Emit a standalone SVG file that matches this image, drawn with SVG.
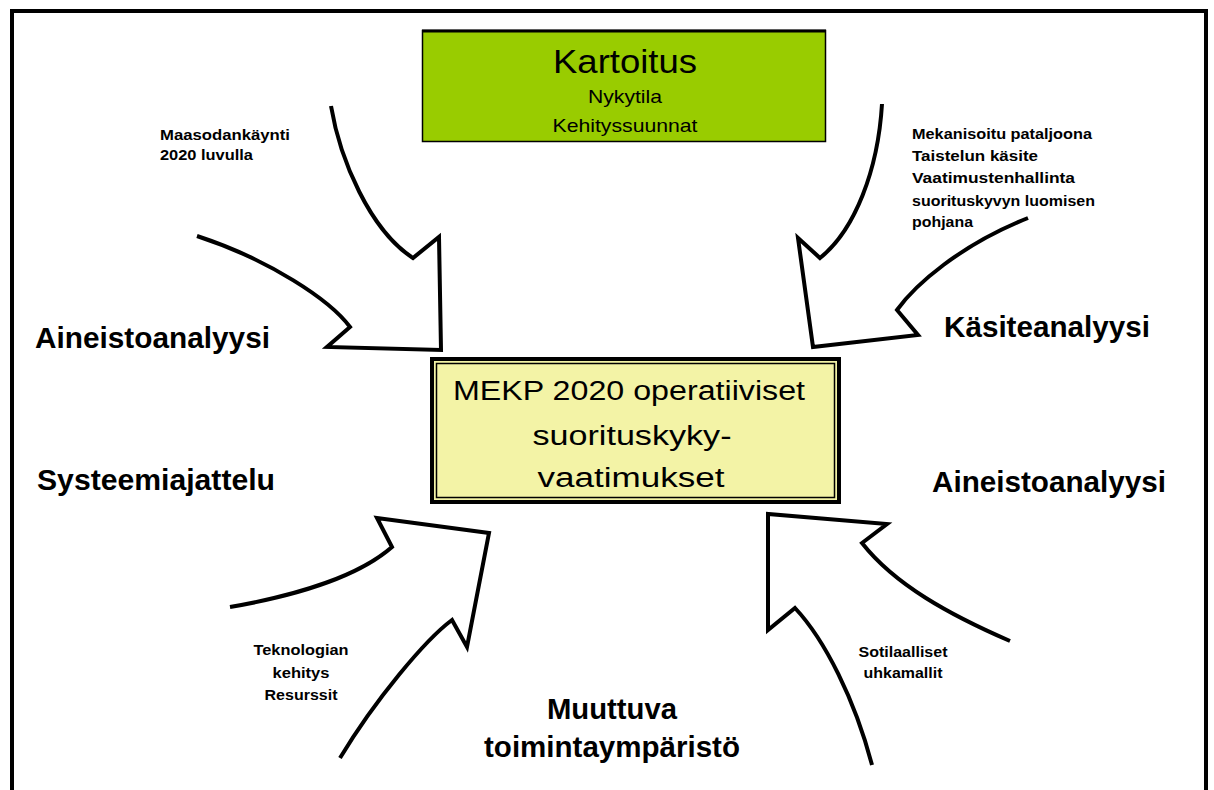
<svg xmlns="http://www.w3.org/2000/svg" width="1214" height="790" viewBox="0 0 1214 790">
<style>
.arrow{fill:none;stroke:#000;stroke-width:4;stroke-linejoin:miter}
.small{font-family:"Liberation Sans",Arial,sans-serif;font-size:15px;font-weight:bold;fill:#000}
.big{font-family:"Liberation Sans",Arial,sans-serif;font-size:29px;font-weight:bold;fill:#000}
.reg{font-family:"Liberation Sans",Arial,sans-serif;fill:#000}
</style>
<rect width="1214" height="790" fill="#fff"/>
<path d="M12,790 V11 H1206 V790" fill="none" stroke="#000" stroke-width="4"/>
<g id="kartoitus">
<rect x="422.5" y="30.5" width="403" height="111" fill="#99CC00" stroke="#000" stroke-width="1.5"/>
<line x1="422" y1="31" x2="826" y2="31" stroke="#000" stroke-width="3"/>
<text class="reg" x="625" y="73" font-size="34" text-anchor="middle" textLength="144" lengthAdjust="spacingAndGlyphs">Kartoitus</text>
<text class="reg" x="625" y="103" font-size="19" text-anchor="middle" textLength="74" lengthAdjust="spacingAndGlyphs">Nykytila</text>
<text class="reg" x="625" y="132" font-size="19" text-anchor="middle" textLength="145" lengthAdjust="spacingAndGlyphs">Kehityssuunnat</text>
</g>
<g id="mekp">
<rect x="432" y="359" width="407" height="143" fill="#F3F3A6" stroke="#000" stroke-width="4"/>
<rect x="436.5" y="363.5" width="398" height="134" fill="none" stroke="#000" stroke-width="1.5"/>
<text class="reg" x="629" y="400" font-size="27" text-anchor="middle" textLength="352" lengthAdjust="spacingAndGlyphs">MEKP 2020 operatiiviset</text>
<text class="reg" x="632" y="445" font-size="27" text-anchor="middle" textLength="199" lengthAdjust="spacingAndGlyphs">suorituskyky-</text>
<text class="reg" x="631" y="487" font-size="27" text-anchor="middle" textLength="187" lengthAdjust="spacingAndGlyphs">vaatimukset</text>
</g>
<g id="connectors">
<path class="arrow" d="M331,106 C340,160 370,230 413,258 L439,237 L441,350 L327,347 L350,327 C330,300 270,260 197,236"/>
<path class="arrow" d="M882,104 C878,170 855,230 820,258 L798,238 L813,347 L918,335 L897,310 C915,285 960,245 1028,218"/>
<path class="arrow" d="M230,607 C300,595 360,575 392,547 L377,518 L489,533 L467,647 L452,620 C425,640 375,700 340,758"/>
<path class="arrow" d="M1010,641 C950,615 895,585 862,543 L887,524 L768,514 L768,630 L795,608 C825,640 855,700 872,765"/>
</g>
<g id="label-maasodankaynti">
<text class="small" x="160" y="140" textLength="130" lengthAdjust="spacingAndGlyphs">Maasodankäynti</text>
<text class="small" x="160" y="160" textLength="93" lengthAdjust="spacingAndGlyphs">2020 luvulla</text>
</g>
<g id="label-mekanisoitu">
<text class="small" x="912" y="139" textLength="180" lengthAdjust="spacingAndGlyphs">Mekanisoitu pataljoona</text>
<text class="small" x="912" y="161" textLength="126" lengthAdjust="spacingAndGlyphs">Taistelun käsite</text>
<text class="small" x="912" y="183" textLength="163" lengthAdjust="spacingAndGlyphs">Vaatimustenhallinta</text>
<text class="small" x="912" y="206" textLength="183" lengthAdjust="spacingAndGlyphs">suorituskyvyn luomisen</text>
<text class="small" x="912" y="227" textLength="61" lengthAdjust="spacingAndGlyphs">pohjana</text>
</g>
<g id="label-teknologian">
<text class="small" x="301" y="655" text-anchor="middle" textLength="95" lengthAdjust="spacingAndGlyphs">Teknologian</text>
<text class="small" x="301" y="678" text-anchor="middle" textLength="57" lengthAdjust="spacingAndGlyphs">kehitys</text>
<text class="small" x="301" y="700" text-anchor="middle" textLength="73" lengthAdjust="spacingAndGlyphs">Resurssit</text>
</g>
<g id="label-sotilaalliset">
<text class="small" x="903" y="657" text-anchor="middle" textLength="89" lengthAdjust="spacingAndGlyphs">Sotilaalliset</text>
<text class="small" x="903" y="678" text-anchor="middle" textLength="79" lengthAdjust="spacingAndGlyphs">uhkamallit</text>
</g>
<g id="aineistoanalyysi-left"><text class="big" x="35" y="348" textLength="235" lengthAdjust="spacingAndGlyphs">Aineistoanalyysi</text></g>
<g id="kasiteanalyysi"><text class="big" x="944" y="337" textLength="206" lengthAdjust="spacingAndGlyphs">Käsiteanalyysi</text></g>
<g id="systeemiajattelu"><text class="big" x="37" y="490" textLength="238" lengthAdjust="spacingAndGlyphs">Systeemiajattelu</text></g>
<g id="aineistoanalyysi-right"><text class="big" x="932" y="492" textLength="234" lengthAdjust="spacingAndGlyphs">Aineistoanalyysi</text></g>
<g id="muuttuva">
<text class="big" x="612" y="719" text-anchor="middle" textLength="130" lengthAdjust="spacingAndGlyphs">Muuttuva</text>
<text class="big" x="612" y="757" text-anchor="middle" textLength="256" lengthAdjust="spacingAndGlyphs">toimintaympäristö</text>
</g>
</svg>
